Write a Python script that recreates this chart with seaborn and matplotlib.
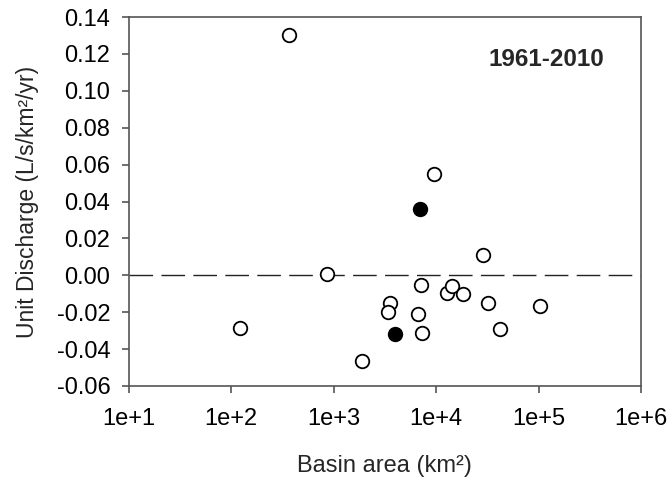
import matplotlib
matplotlib.use("Agg")
import matplotlib.pyplot as plt
import seaborn as sns
import pandas as pd

# Open-circle stations
open_area = [371, 122, 859, 1884, 3556, 3381, 6627, 7140, 7300, 9550,
             12880, 14220, 18460, 28910, 31920, 42070, 104200]
open_q = [0.130, -0.0287, 0.0009, -0.0466, -0.0149, -0.0199, -0.0211, -0.0054,
          -0.0314, 0.0547, -0.0094, -0.0058, -0.0103, 0.0110, -0.0152, -0.0291, -0.0166]
# Filled-circle stations
fill_area = [4011, 6930]
fill_q = [-0.0317, 0.0361]

x_ticks = [1e1, 1e2, 1e3, 1e4, 1e5, 1e6]
x_ticklabels = ["1e+1", "1e+2", "1e+3", "1e+4", "1e+5", "1e+6"]
y_ticks = [-0.06, -0.04, -0.02, 0.00, 0.02, 0.04, 0.06, 0.08, 0.10, 0.12, 0.14]
y_ticklabels = ["-0.06", "-0.04", "-0.02", "0.00", "0.02", "0.04", "0.06",
                "0.08", "0.10", "0.12", "0.14"]
period = "1961-2010"

sns.set_style("white")
plt.rcParams["font.family"] = ["Liberation Sans", "DejaVu Sans"]

df_open = pd.DataFrame({"area": open_area, "q": open_q})
df_fill = pd.DataFrame({"area": fill_area, "q": fill_q})

fig = plt.figure(figsize=(6.7, 4.82), dpi=100)
ax = fig.add_axes([0.1918, 0.1992, 0.765, 0.7655])

ax.axhline(0, color="#222222", lw=1.0, dashes=(17, 6), zorder=1)

sns.scatterplot(data=df_open, x="area", y="q", ax=ax, s=95, marker="o",
                facecolor="white", edgecolor="black", linewidth=1.3, zorder=3)
sns.scatterplot(data=df_fill, x="area", y="q", ax=ax, s=95, marker="o",
                facecolor="black", edgecolor="black", linewidth=1.3, zorder=3)

ax.set_xscale("log")
ax.set_xlim(1e1, 1e6)
ax.set_ylim(-0.06, 0.14)
ax.set_xticks(x_ticks)
ax.set_xticklabels(x_ticklabels)
ax.minorticks_off()
ax.set_yticks(y_ticks)
ax.set_yticklabels(y_ticklabels)

for sp in ax.spines.values():
    sp.set_color("#555555")
    sp.set_linewidth(1.2)
    sp.set_visible(True)

ax.tick_params(axis="both", which="major", direction="out", length=5, width=1.2,
               color="#555555", labelsize=17, labelcolor="black",
               bottom=True, left=True, top=False, right=False)
ax.tick_params(axis="x", pad=11)
ax.tick_params(axis="y", pad=8)

ax.set_xlabel("Basin area (km²)", fontsize=17, va="center")
ax.set_ylabel("Unit Discharge (L/s/km²/yr)", fontsize=16.5, va="center")
ax.xaxis.set_label_coords(0.5, -0.217)
ax.yaxis.set_label_coords(-0.198, 0.5)

ax.text(0.815, 0.885, period, transform=ax.transAxes, ha="center", va="center",
        fontsize=17.5, fontweight="bold")

fig.savefig("out.png", dpi=100)
